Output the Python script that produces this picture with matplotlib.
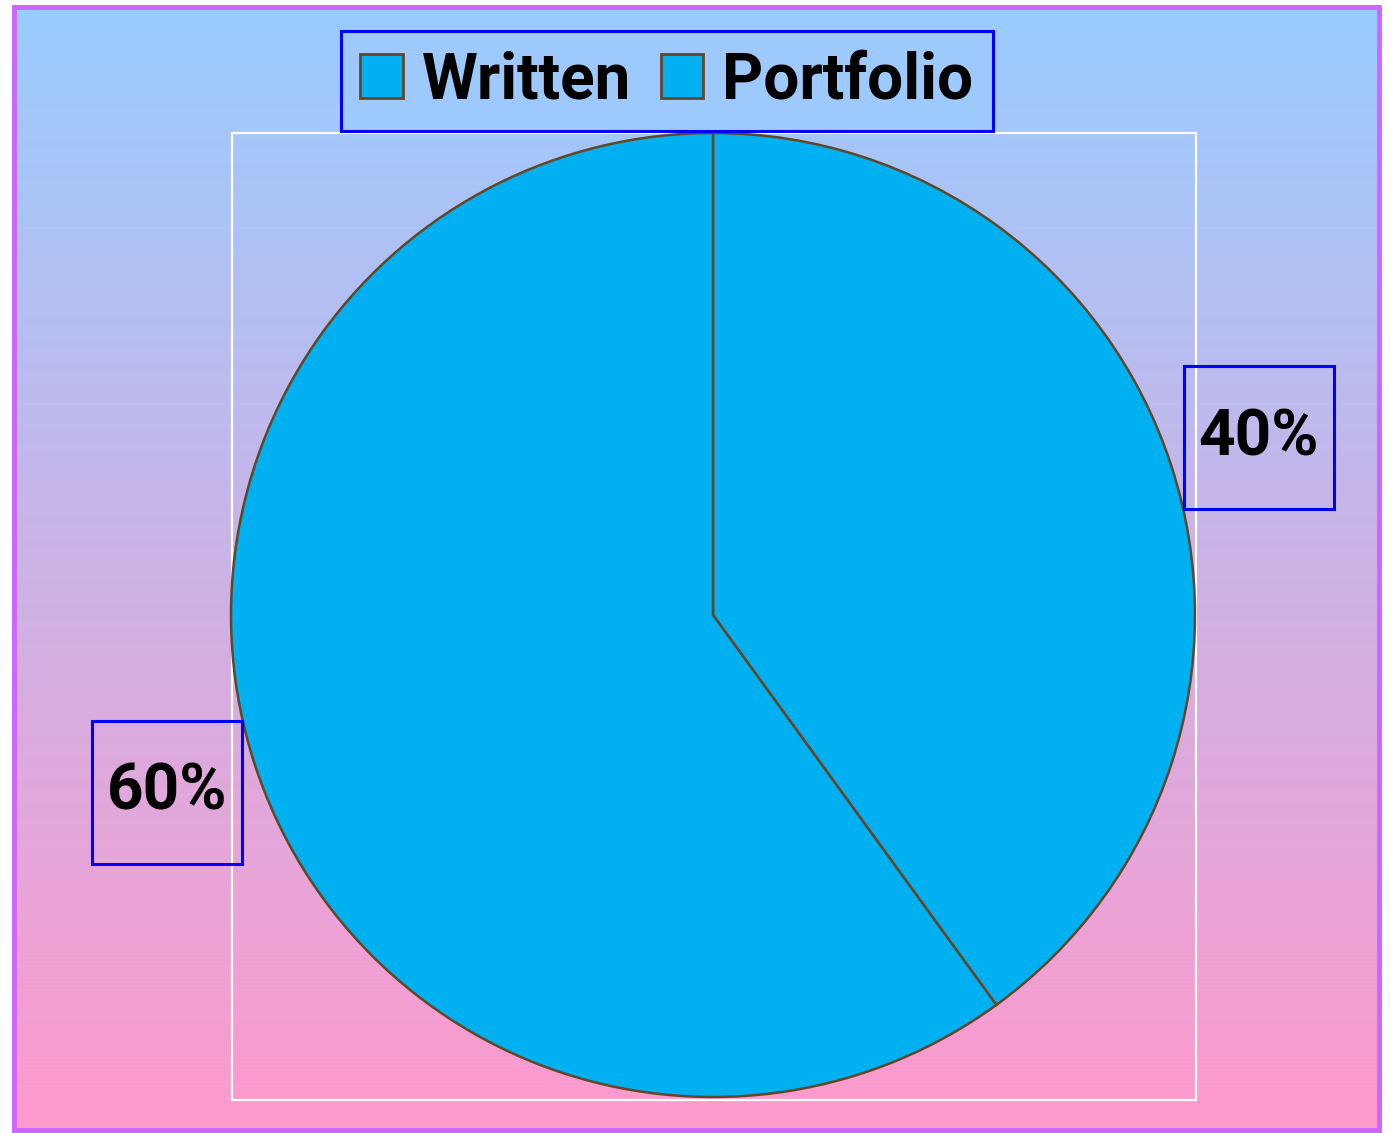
import numpy as np
import matplotlib
matplotlib.use("Agg")
from matplotlib import pyplot as plt
from matplotlib.patches import Rectangle

# data
labels = ["Written", "Portfolio"]
shares = [40, 60]

W, H = 1391, 1133
slice_color = "#00B0F0"
edge_color = "#634628"
box_blue = "#0000FF"
font = dict(family=["Roboto", "DejaVu Sans"], weight="bold")
fsize = 46

fig = plt.figure(figsize=(W / 100, H / 100), dpi=100)
fig.patch.set_facecolor("white")

# background in pixel space
bg = fig.add_axes([0, 0, 1, 1])
bg.set_xlim(0, W)
bg.set_ylim(H, 0)
bg.axis("off")
top = np.array([0x99, 0xCC, 0xFF]) / 255
bot = np.array([0xFF, 0x99, 0xCC]) / 255
t = np.linspace(0, 1, 256)[:, None, None]
grad = top * (1 - t) + bot * t
bg.imshow(grad, extent=[12, 1381, 1132, 5], aspect="auto", zorder=0)
bg.add_patch(Rectangle((14, 7), 1365, 1123, fill=False, ec="#CC66FF", lw=3.5, zorder=2))
bg.add_patch(Rectangle((232, 133), 964, 967, fill=False, ec="white", lw=1.6, zorder=1))

# pie axes: centre (713, 615), radius 482 px
cx, cy, r = 713, 615, 482
ax = fig.add_axes([(cx - r) / W, (H - cy - r) / H, 2 * r / W, 2 * r / H])
wedges, texts, autotexts = ax.pie(
    shares, colors=[slice_color] * len(shares), startangle=90, counterclock=False,
    autopct="%.0f%%", pctdistance=1.19,
    wedgeprops=dict(edgecolor=edge_color, linewidth=1.8),
    textprops=dict(fontsize=fsize, color="black", **font))
ax.set_xlim(-1, 1)
ax.set_ylim(-1, 1)
ax.set_aspect("auto")
ax.axis("off")

# label boxes around the percentages
bw, bh = 150 / r, 143 / r
for at in autotexts:
    x, y = at.get_position()
    ax.add_patch(Rectangle((x - bw / 2, y - bh / 2), bw, bh, fill=False,
                           ec=box_blue, lw=2.2, clip_on=False))

leg = fig.legend(wedges, labels, loc="center", bbox_to_anchor=(667 / W, 1 - 81 / H),
                 ncol=2, prop=dict(size=fsize, **font), frameon=True, fancybox=False,
                 handlelength=0.67, handleheight=0.67, handletextpad=0.3,
                 columnspacing=0.45, borderpad=0.3, borderaxespad=0)
leg.get_frame().set_edgecolor(box_blue)
leg.get_frame().set_linewidth(2.2)
leg.get_frame().set_facecolor("#9DC9FC")
leg.get_frame().set_alpha(1)
for h in leg.legend_handles:
    h.set_edgecolor(edge_color)
    h.set_linewidth(2)

fig.savefig("out.png", dpi=100)
